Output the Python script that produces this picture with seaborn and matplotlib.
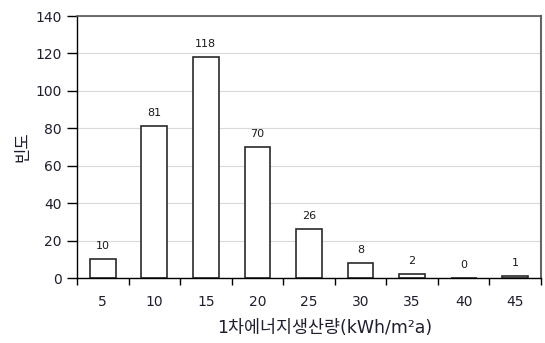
import matplotlib
matplotlib.use("Agg")
import matplotlib.pyplot as plt
import seaborn as sns
import pandas as pd
import numpy as np

categories = ["5", "10", "15", "20", "25", "30", "35", "40", "45"]
counts = [10, 81, 118, 70, 26, 8, 2, 0, 1]

sns.set_theme(style="white")
plt.rcParams['font.family'] = ['DejaVu Sans', 'Noto Sans CJK KR']

df = pd.DataFrame({"cat": categories, "count": counts})

fig = plt.figure(figsize=(5.45, 3.43), dpi=100)
ax = fig.add_axes([77/545, 1-278/343, (541-77)/545, (278-16)/343])

sns.barplot(data=df, x="cat", y="count", order=categories, ax=ax,
            color="white", edgecolor="#2a2a2a", linewidth=1.2, width=0.5,
            saturation=1)

ax.set_xlim(-0.5, len(categories) - 0.5)
ax.set_ylim(0, 140)
ax.set_yticks(np.arange(0, 141, 20))
ax.yaxis.grid(True, color="#d9d9d9", linewidth=0.8)
ax.set_axisbelow(True)

# x tick marks between categories
ax.set_xticks(np.arange(-0.5, len(categories), 1.0), minor=True)
ax.tick_params(axis="x", which="major", length=0, pad=12, labelsize=10, labelcolor="#1f1f2f")
ax.tick_params(axis="x", which="minor", length=5, width=1, color="black", direction="out", bottom=True)
ax.tick_params(axis="y", which="major", length=7, width=1, color="black", direction="out", left=True,
               labelsize=10, labelcolor="#1f1f2f", pad=4)

for s in ["left", "bottom"]:
    ax.spines[s].set_color("black")
    ax.spines[s].set_linewidth(1.0)
ax.spines["top"].set_color("#555555")
ax.spines["top"].set_linewidth(1.2)
ax.spines["right"].set_color("#666666")
ax.spines["right"].set_linewidth(1.5)

for i, v in enumerate(counts):
    ax.annotate(str(v), (i, v), xytext=(0, 6), textcoords="offset points",
                ha="center", va="bottom", fontsize=8, color="#1a1a1a")

ax.set_xlabel("1차에너지생산량(kWh/m²a)", fontsize=12.5, color="#1f1f2f")
ax.xaxis.set_label_coords((325 - 77) / 464, -(328 - 278) / 262, transform=ax.transAxes)
ax.xaxis.label.set_va("center")
ax.set_ylabel("빈도", fontsize=12, color="#1f1f2f")
ax.yaxis.set_label_coords(-(77 - 22) / 464, (278 - 147) / 262, transform=ax.transAxes)
ax.yaxis.label.set_va("center")

fig.savefig("out.png", dpi=100)
